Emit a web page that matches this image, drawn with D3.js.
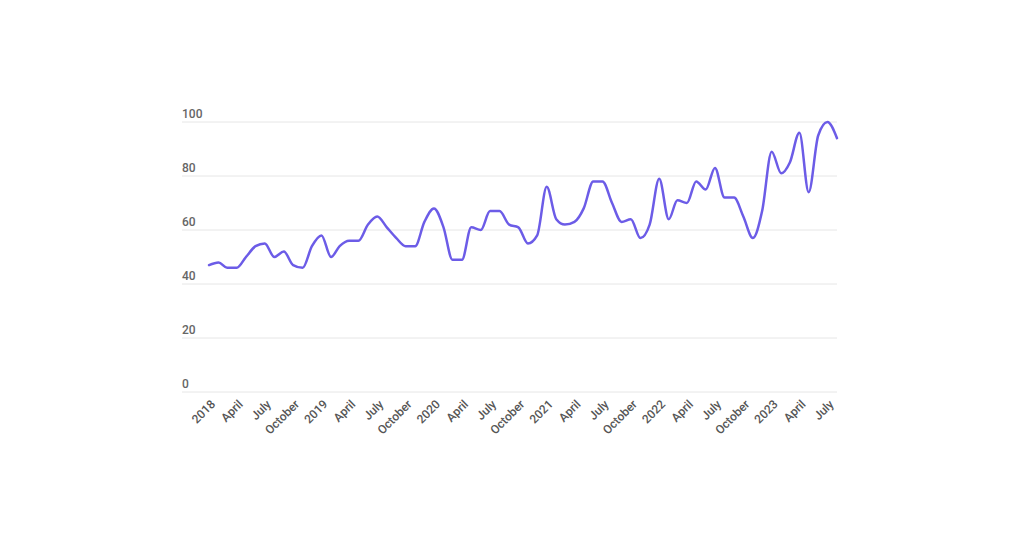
<!DOCTYPE html>
<html>
<head>
<meta charset="utf-8">
<script src="https://cdn.jsdelivr.net/npm/d3@7"></script>
<style>
  html, body { margin: 0; padding: 0; background: #fff; }
  svg { display: block; font-family: Roboto, "Noto Sans", sans-serif; }
</style>
</head>
<body>
<svg id="chart" width="1024" height="536"></svg>
<script>
// Monthly values, January 2018 – August 2023
const startYear = 2018;
const values2018 = [47, 48, 46, 46, 50, 54, 55, 50, 52, 47, 46, 54];
const values2019 = [58, 50, 54, 56, 56, 62, 65, 61, 57, 54, 54, 63];
const values2020 = [68, 61, 49, 49, 61, 60, 67, 67, 62, 61, 55, 58];
const values2021 = [76, 64, 62, 63, 68, 78, 78, 70, 63, 64, 57, 62];
const values2022 = [79, 64, 71, 70, 78, 75, 83, 72, 72, 65, 57, 67];
const values2023 = [89, 81, 85, 96, 74, 95, 100, 94];
const yTicks = [0, 20, 40, 60, 80, 100];
const monthNames = ["January","February","March","April","May","June","July","August","September","October","November","December"];

const allValues = [].concat(values2018, values2019, values2020, values2021, values2022, values2023);
const data = allValues.map((v, i) => ({ date: new Date(startYear, i, 1), value: v }));

const svg = d3.select("#chart");
const x = d3.scaleTime()
  .domain(d3.extent(data, d => d.date))
  .range([209, 837]);
const y = d3.scaleLinear().domain([0, 100]).range([392, 122]);

// grid + y labels
const gy = svg.append("g");
gy.selectAll("line").data(yTicks).join("line")
  .attr("x1", 182).attr("x2", 837)
  .attr("y1", d => y(d)).attr("y2", d => y(d))
  .attr("stroke", "#e6e6e6").attr("stroke-width", 1);
gy.selectAll("text").data(yTicks).join("text")
  .attr("x", 182).attr("y", d => y(d) - 4)
  .attr("font-size", 12).attr("font-weight", 500)
  .attr("fill", "#666")
  .text(d => d);

// x axis labels
const xTicks = d3.timeMonth.every(3).range(new Date(startYear, 0, 1), new Date(2023, 7, 2));
const gx = svg.append("g");
gx.selectAll("text").data(xTicks).join("text")
  .attr("transform", d => `translate(${x(d) + 4},${402}) rotate(-45)`)
  .attr("text-anchor", "end")
  .attr("dy", "0.35em")
  .attr("font-size", 12).attr("font-weight", 500)
  .attr("fill", "#555")
  .text(d => d.getMonth() === 0 ? d.getFullYear() : monthNames[d.getMonth()]);

// line
const line = d3.line()
  .x(d => x(d.date))
  .y(d => y(d.value))
  .curve(d3.curveMonotoneX);
svg.append("path").datum(data)
  .attr("fill", "none")
  .attr("stroke", "#6c5ce7")
  .attr("stroke-width", 2.5)
  .attr("stroke-linejoin", "round")
  .attr("stroke-linecap", "round")
  .attr("d", line);
</script>
</body>
</html>
